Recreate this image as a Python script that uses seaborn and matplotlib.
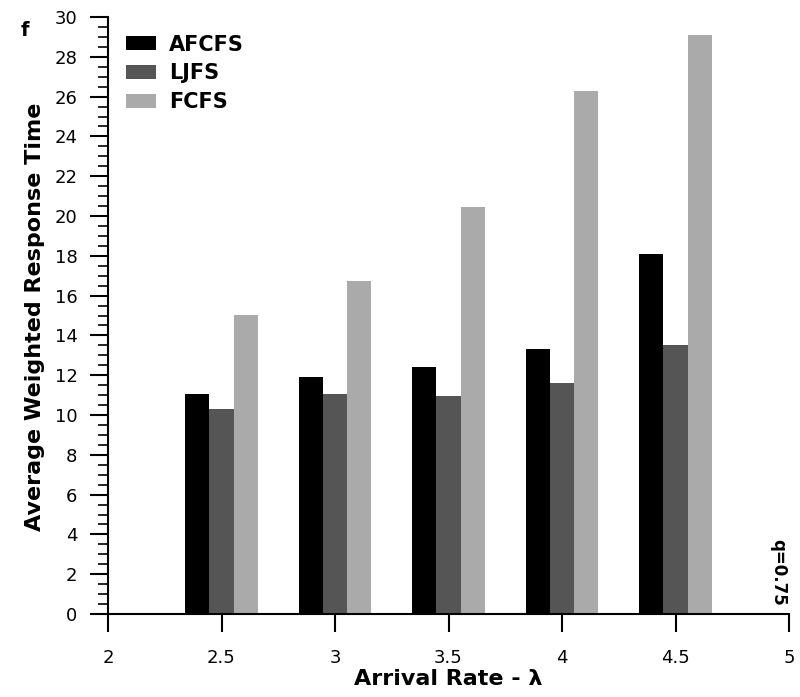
import matplotlib
matplotlib.use("Agg")
import matplotlib.pyplot as plt
from matplotlib.patches import Patch
from matplotlib.ticker import MultipleLocator
import seaborn as sns
import pandas as pd

# ---- data ----
arrival_rate = [2.5, 3.0, 3.5, 4.0, 4.5]
afcfs = [11.05, 11.9, 12.4, 13.3, 18.1]
ljfs = [10.3, 11.05, 10.95, 11.6, 13.5]
fcfs = [15.05, 16.75, 20.45, 26.3, 29.1]
series_names = ["AFCFS", "LJFS", "FCFS"]
series_colors = ["#000000", "#555555", "#aaaaaa"]
x_ticks = [2, 2.5, 3, 3.5, 4, 4.5, 5]
x_tick_labels = ["2", "2.5", "3", "3.5", "4", "4.5", "5"]

rows = []
for name, vals in zip(series_names, [afcfs, ljfs, fcfs]):
    for x, v in zip(arrival_rate, vals):
        rows.append({"lam": x, "val": v, "policy": name})
df = pd.DataFrame(rows)

sns.set_style("ticks")
plt.rcParams["font.family"] = ["DejaVu Sans"]
plt.rcParams["text.color"] = "black"
plt.rcParams["axes.labelcolor"] = "black"
plt.rcParams["xtick.color"] = "black"
plt.rcParams["ytick.color"] = "black"

fig = plt.figure(figsize=(8, 6.97), dpi=100)
ax = fig.add_axes([108/800, 83/697, 681/800, 597/697])

palette = dict(zip(series_names, series_colors))
sns.barplot(data=df, x="lam", y="val", hue="policy", hue_order=series_names,
            palette=palette, native_scale=True, width=0.64, gap=0,
            saturation=1, linewidth=0, legend=False, ax=ax, errorbar=None)

ax.set_xlim(2, 5)
ax.set_ylim(0, 30)
ax.set_xticks(x_ticks)
ax.set_xticklabels(x_tick_labels)
ax.yaxis.set_major_locator(MultipleLocator(2))
ax.yaxis.set_minor_locator(MultipleLocator(0.5))

for s in ["top", "right"]:
    ax.spines[s].set_visible(False)
for s in ["left", "bottom"]:
    ax.spines[s].set_linewidth(1.5)
    ax.spines[s].set_color("black")

ax.tick_params(axis="y", which="major", direction="out", length=13, width=1.5,
               pad=9, labelsize=13, colors="black")
ax.tick_params(axis="y", which="minor", direction="out", length=7, width=1.2,
               colors="black")
ax.tick_params(axis="x", which="major", direction="out", length=13, width=1.5,
               pad=12, labelsize=13, colors="black")

ax.set_xlabel("Arrival Rate - λ", fontsize=16, fontweight="bold", color="black")
ax.set_ylabel("Average Weighted Response Time", fontsize=16, fontweight="bold",
              color="black")
ax.xaxis.set_label_coords(0.5, -0.092)
ax.yaxis.set_label_coords(-0.092, 0.497)

handles = [Patch(facecolor=c, edgecolor="none") for c in series_colors]
leg = ax.legend(handles, series_names, loc="upper left",
                bbox_to_anchor=(0.026, 0.9706),
                frameon=False, borderpad=0, borderaxespad=0, handlelength=1.44,
                handleheight=0.68, handletextpad=0.63, labelspacing=0.42,
                prop={"size": 15, "weight": "bold"})
for t in leg.get_texts():
    t.set_color("black")

fig.text(25/800, 1 - 30/697, "f", ha="center", va="center",
         fontsize=14, fontweight="bold", color="black")
fig.text(778/800, 1 - 572/697, "q=0.75", ha="center", va="center",
         rotation=-90, fontsize=12, fontweight="bold", color="black")

fig.savefig("out.png", dpi=100)
